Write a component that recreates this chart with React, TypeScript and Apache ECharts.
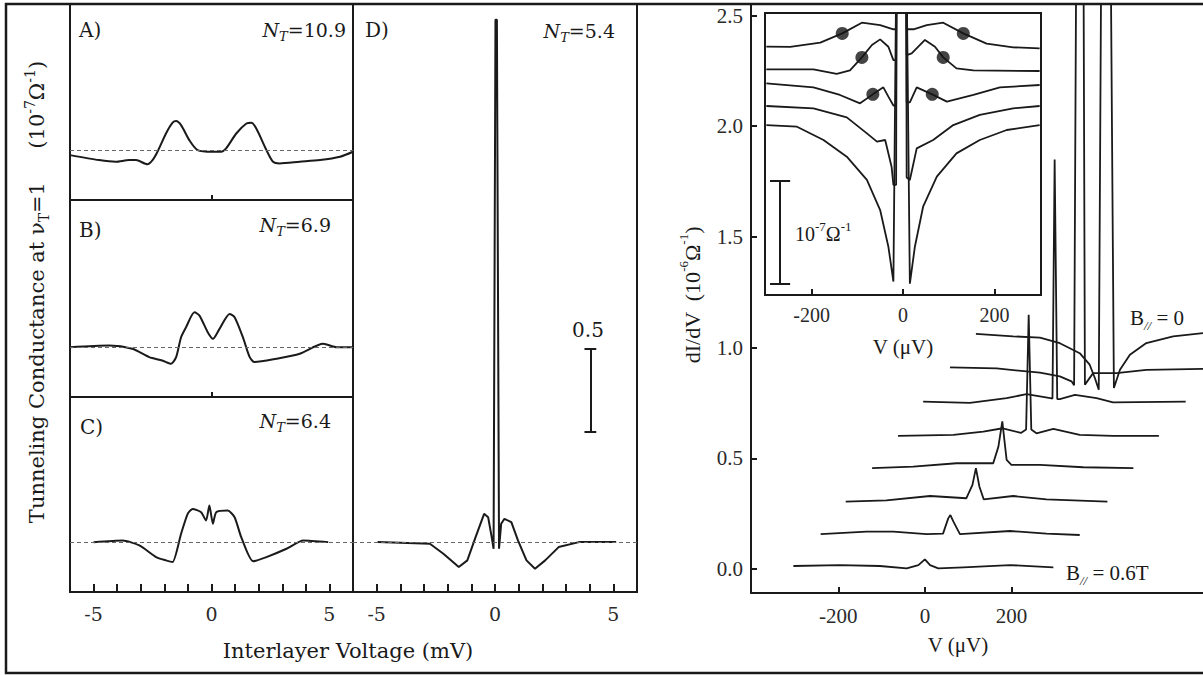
import React, { useEffect, useRef } from "react";
import * as echarts from "echarts";

// ---------- Left panels: Interlayer voltage (mV) vs conductance (10^-7 Ω^-1, relative to baseline)
const panelA: number[][] = [
  [-6.0, -0.03], [-4.77, -0.06], [-4.06, -0.07], [-3.49, -0.06], [-3.2, -0.06], [-2.72, -0.085],
  [-2.5, -0.06], [-2.29, -0.01], [-1.93, 0.1], [-1.65, 0.165], [-1.5, 0.175], [-1.29, 0.15],
  [-0.94, 0.06], [-0.59, 0.0], [0.05, -0.01], [0.41, -0.01], [0.62, 0.01], [1.05, 0.1],
  [1.48, 0.16], [1.69, 0.165], [1.9, 0.13], [2.33, 0.0], [2.61, -0.07], [2.89, -0.08],
  [3.74, -0.07], [4.6, -0.06], [5.45, -0.04], [6.0, -0.01],
];
const panelB: number[][] = [
  [-6.0, 0.0], [-4.34, 0.01], [-3.36, -0.01], [-2.64, -0.06], [-2.09, -0.08], [-1.72, -0.1],
  [-1.5, -0.06], [-1.29, 0.06], [-1.08, 0.12], [-0.72, 0.21], [-0.51, 0.19], [-0.16, 0.09],
  [0.06, 0.05], [0.34, 0.11], [0.77, 0.2], [0.98, 0.18], [1.33, 0.06], [1.62, -0.06],
  [1.83, -0.09], [2.75, -0.07], [3.74, -0.04], [4.74, 0.02], [5.31, 0.0], [6.0, 0.0],
];
const panelC: number[][] = [
  [-5.0, 0.0], [-3.77, 0.01], [-3.06, -0.02], [-2.35, -0.09], [-1.93, -0.11], [-1.65, -0.12],
  [-1.29, 0.05], [-1.01, 0.17], [-0.8, 0.2], [-0.44, 0.18], [-0.23, 0.13], [-0.09, 0.22],
  [0.06, 0.11], [0.2, 0.18], [0.69, 0.19], [0.98, 0.15], [1.26, 0.03], [1.76, -0.115],
  [2.33, -0.09], [3.18, -0.04], [3.89, 0.01], [4.95, 0.0],
];
const panelD: number[][] = [
  [-4.96, 0.0], [-2.75, -0.01], [-2.18, -0.07], [-1.53, -0.15], [-1.17, -0.11], [-0.82, 0.03],
  [-0.46, 0.17], [-0.29, 0.15], [-0.14, 0.03], [-0.06, -0.04], [-0.04, -0.04], [0.02, 3.14],
  [0.08, 3.14], [0.17, -0.04], [0.19, -0.04], [0.26, 0.11], [0.4, 0.14], [0.69, 0.12], [0.97, 0.01],
  [1.33, -0.11], [1.69, -0.16], [2.12, -0.11], [2.69, -0.03], [3.55, 0.0], [5.12, 0.0],
];
const panelNames = ["A)", "B)", "C)", "D)"];
const panelNT = ["10.9", "6.9", "6.4", "5.4"];
const leftTickLabels = [-5, 0, 5];
const scaleBarD = { x: 4.03, from: 0.663, to: 1.163, cap: 0.25, label: "0.5" };

// ---------- Right panel: waterfall dI/dV (10^-6 Ω^-1) vs V (µV), bottom B//=0.6T ... top B//=0
const wf1: number[][] = [
  [-304, 0.014], [-197, 0.018], [-104, 0.014], [-42, 0.003], [-15, 0.018], [0, 0.044],
  [12, 0.018], [31, 0.003], [89, 0.008], [197, 0.018], [297, 0.008],
];
const wf2: number[][] = [
  [-241, 0.158], [-135, 0.169], [-73, 0.169], [4, 0.158], [42, 0.16], [54, 0.229], [59, 0.244],
  [66, 0.214], [81, 0.158], [197, 0.172], [281, 0.16], [358, 0.154],
];
const wf3: number[][] = [
  [-183, 0.305], [-89, 0.31], [12, 0.33], [96, 0.32], [110, 0.38], [118, 0.456], [126, 0.373],
  [136, 0.315], [204, 0.33], [281, 0.315], [422, 0.305],
];
const wf4: number[][] = [
  [-122, 0.456], [-27, 0.463], [73, 0.478], [158, 0.478], [170, 0.553], [179, 0.667],
  [189, 0.493], [200, 0.471], [266, 0.471], [366, 0.46], [482, 0.456],
];
const wf5: number[][] = [
  [-62, 0.602], [66, 0.606], [135, 0.621], [180, 0.636], [222, 0.615], [234, 0.63], [240, 1.149],
  [246, 0.63], [258, 0.613], [297, 0.633], [358, 0.606], [435, 0.602], [541, 0.602],
];
const wf6: number[][] = [
  [-4, 0.756], [104, 0.751], [189, 0.772], [235, 0.79], [266, 0.78], [290, 0.772], [295, 0.77],
  [300, 1.85], [306, 0.768], [312, 0.768], [347, 0.787], [397, 0.772], [435, 0.753], [603, 0.756],
];
const wf7: number[][] = [
  [58, 0.911], [166, 0.906], [266, 0.887], [312, 0.87], [339, 0.848], [345, 0.83], [351, 3.2],
  [366, 3.2], [370, 0.833], [389, 0.885], [443, 0.885], [512, 0.9], [643, 0.904],
];
const wf8: number[][] = [
  [118, 1.062], [204, 1.051], [266, 1.045], [312, 1.02], [358, 0.975], [381, 0.923], [393, 0.863],
  [402, 0.81], [409, 3.2], [428, 3.2], [437, 0.818], [451, 0.9], [474, 0.968], [512, 1.021],
  [574, 1.051], [643, 1.066],
];
const waterfall = [wf1, wf2, wf3, wf4, wf5, wf6, wf7, wf8];
const rightXTicks = [-200, 0, 200];
const rightYTicks = [0, 0.5, 1.0, 1.5, 2.0, 2.5];

// ---------- Inset: dI/dV (units of 10^-7 Ω^-1, offset) vs V (µV)
const inset1: number[][] = [
  [-299, 2.411], [-247, 2.41], [-181, 2.45], [-133, 2.54], [-90, 2.644], [-50, 2.62], [-21, 2.58],
  [-15, 2.58], [-14, 3.5], [7, 3.5], [8, 2.58], [23, 2.58], [52, 2.62], [88, 2.644], [132, 2.54],
  [183, 2.44], [241, 2.405], [299, 2.395],
];
const inset2: number[][] = [
  [-299, 2.191], [-196, 2.19], [-145, 2.146], [-116, 2.18], [-90, 2.307], [-68, 2.427], [-50, 2.482],
  [-32, 2.41], [-21, 2.28], [-15, 2.28], [-14, 3.5], [7, 3.5], [8, 2.33], [19, 2.346], [48, 2.476],
  [70, 2.41], [88, 2.307], [117, 2.2], [154, 2.18], [299, 2.175],
];
const inset3: number[][] = [
  [-299, 2.055], [-196, 2.016], [-138, 1.942], [-94, 1.861], [-66, 1.948], [-43, 2.016], [-32, 1.926],
  [-21, 1.84], [-15, 1.84], [-14, 3.5], [7, 3.5], [8, 1.87], [15, 1.87], [30, 2.016], [64, 1.948],
  [96, 1.877], [154, 1.942], [212, 2.016], [299, 2.039],
];
const inset4: number[][] = [
  [-299, 1.835], [-196, 1.812], [-123, 1.725], [-79, 1.569], [-57, 1.489], [-39, 1.505], [-25, 1.246],
  [-21, 1.07], [-15, 1.07], [-14, 3.5], [7, 3.5], [8, 1.14], [15, 1.117], [30, 1.424], [66, 1.505],
  [110, 1.65], [168, 1.748], [241, 1.812], [299, 1.835],
];
const inset5: number[][] = [
  [-299, 1.65], [-232, 1.634], [-174, 1.505], [-123, 1.343], [-79, 1.117], [-50, 0.825], [-32, 0.469],
  [-21, 0.13], [-14, 3.5], [7, 3.5], [15, 0.11], [26, 0.469], [44, 0.857], [74, 1.149], [117, 1.375],
  [168, 1.505], [227, 1.602], [299, 1.65],
];
const insetTraces = [inset1, inset2, inset3, inset4, inset5];
const insetDots: number[][] = [
  [-133, 2.54], [132, 2.54], [-90, 2.307], [88, 2.307], [-66, 1.948], [64, 1.948],
];
const insetXTicks = [-200, 0, 200];
const scaleBarInset = { x: -269, from: 0.107, to: 1.107, cap: 22 };

const LF = "DejaVu Serif";
const RF = "Liberation Serif";
const INK = "#1a1a1a";

const tok = (family: string, size: number, lh: number, extra: any = {}) => ({
  fontFamily: family, fontSize: size, lineHeight: lh, fill: INK, ...extra,
});
const LR = {
  a: tok(LF, 19, 26),
  p: tok(LF, 20, 26),
  x: tok(LF, 21, 28),
  b: tok(LF, 21, 28),
  i: tok(LF, 19, 26, { fontStyle: "italic" }),
  sub: tok(LF, 13, 13, { fontStyle: "italic", verticalAlign: "bottom" }),
  subr: tok(LF, 14, 14, { verticalAlign: "bottom" }),
  sup: tok(LF, 14, 14, { verticalAlign: "top" }),
};
const RR = {
  a: tok(RF, 21, 28),
  y: tok(RF, 22, 30),
  c: tok(RF, 20, 28),
  sup: tok(RF, 13, 13, { verticalAlign: "top" }),
  sub: tok(RF, 13, 13, { fontStyle: "italic", verticalAlign: "bottom" }),
};

function rt(x: number, y: number, text: string, rich: any, align = "left", rotation = 0) {
  return {
    type: "text", x, y, rotation, z: 20, silent: true,
    style: { text, rich, textAlign: align, textVerticalAlign: "middle", fill: INK },
  };
}

export default function App() {
  const ref = useRef<HTMLDivElement>(null);
  useEffect(() => {
    if (!ref.current) return;
    const chart = echarts.init(ref.current, undefined, { renderer: "svg" });
    const axisLineStyle = { color: INK, width: 2 };
    const gridBase = { show: true, borderColor: INK, borderWidth: 2, backgroundColor: "transparent", containLabel: false, outerBoundsMode: "none" };
    const leftGrids = [
      { left: 70, top: 4, width: 283, height: 196 },
      { left: 70, top: 200, width: 283, height: 197 },
      { left: 70, top: 397, width: 283, height: 195 },
      { left: 353, top: 4, width: 284, height: 588 },
    ].map((g) => ({ ...gridBase, ...g }));
    const grids = [
      ...leftGrids,
      { left: 751, top: 4, width: 452, height: 589, show: false, containLabel: false, outerBoundsMode: "none" },
      { ...gridBase, left: 765, top: 13, width: 276, height: 282, backgroundColor: "#fff" },
    ];
    const leftXTop = (g: number) => ({
      gridIndex: g, type: "value", min: -6, max: 6,
      axisLine: { show: false, onZero: false },
      axisTick: { show: true, inside: true, length: 5, customValues: [0], lineStyle: axisLineStyle },
      axisLabel: { show: false }, splitLine: { show: false },
    });
    const leftXBottom = (g: number) => ({
      gridIndex: g, type: "value", min: -6, max: 6, interval: 1,
      axisLine: { show: true, onZero: false, lineStyle: axisLineStyle },
      axisTick: { show: true, inside: true, length: 8, lineStyle: axisLineStyle },
      axisLabel: {
        formatter: (v: number) => (leftTickLabels.includes(v) ? String(v) : ""),
        fontFamily: LF, fontSize: 19, color: "#2a2a2a", margin: 12,
      },
      splitLine: { show: false },
    });
    const hiddenY = (g: number, min: number, max: number) => ({
      gridIndex: g, type: "value", min, max, show: false, axisLine: { onZero: false }, splitLine: { show: false },
    });
    const xAxis = [
      leftXTop(0), leftXTop(1), leftXBottom(2), leftXBottom(3),
      {
        gridIndex: 4, type: "value", min: -402, max: 643,
        axisLine: { show: true, onZero: false, lineStyle: axisLineStyle },
        axisTick: { show: true, inside: true, length: 6, customValues: rightXTicks, lineStyle: axisLineStyle },
        axisLabel: { customValues: rightXTicks, fontFamily: RF, fontSize: 21, color: "#2a2a2a", margin: 12 },
        splitLine: { show: false },
      },
      {
        gridIndex: 5, type: "value", min: -302, max: 302,
        axisLine: { show: false, onZero: false },
        axisTick: { show: true, inside: true, length: 6, customValues: insetXTicks, lineStyle: axisLineStyle },
        axisLabel: { customValues: insetXTicks, fontFamily: RF, fontSize: 20, color: "#2a2a2a", margin: 10 },
        splitLine: { show: false },
      },
    ];
    const yAxis = [
      hiddenY(0, -0.3, 0.879), hiddenY(1, -0.3, 0.886), hiddenY(2, -0.3, 0.873), hiddenY(3, -0.3, 3.235),
      {
        gridIndex: 4, type: "value", min: -0.108, max: 2.552,
        axisLine: { show: true, onZero: false, lineStyle: axisLineStyle },
        axisTick: { show: true, inside: true, length: 6, customValues: rightYTicks, lineStyle: axisLineStyle },
        axisLabel: {
          customValues: rightYTicks, formatter: (v: number) => v.toFixed(1),
          fontFamily: RF, fontSize: 21, color: "#2a2a2a", margin: 8,
        },
        splitLine: { show: false },
      },
      hiddenY(5, 0, 2.738),
    ];
    const baseLine = {
      silent: true, symbol: ["none", "none"], label: { show: false }, animation: false,
      lineStyle: { type: [4, 3], color: "#666", width: 1 },
      data: [{ yAxis: 0 }] as any[],
    };
    const solid = { type: "solid", color: INK, width: 2 };
    const line = (idx: number, data: number[][], extra: any = {}) => ({
      type: "line", xAxisIndex: idx, yAxisIndex: idx, data, symbol: "none", showSymbol: false,
      lineStyle: { color: INK, width: 2 }, clip: true, silent: true, z: 3, ...extra,
    });
    const series: any[] = [
      line(0, panelA, { smooth: 0.25, markLine: baseLine }),
      line(1, panelB, { smooth: 0.25, markLine: baseLine }),
      line(2, panelC, { smooth: 0.2, markLine: baseLine }),
      line(3, panelD, {
        markLine: {
          ...baseLine,
          data: [
            { yAxis: 0 },
            [{ coord: [scaleBarD.x, scaleBarD.from], lineStyle: solid }, { coord: [scaleBarD.x, scaleBarD.to] }],
            [{ coord: [scaleBarD.x - scaleBarD.cap, scaleBarD.from], lineStyle: solid }, { coord: [scaleBarD.x + scaleBarD.cap, scaleBarD.from] }],
            [{ coord: [scaleBarD.x - scaleBarD.cap, scaleBarD.to], lineStyle: solid }, { coord: [scaleBarD.x + scaleBarD.cap, scaleBarD.to] }],
          ],
        },
      }),
      ...waterfall.map((d) => line(4, d, { lineStyle: { color: INK, width: 1.8 } })),
      ...insetTraces.map((d, i) =>
        line(5, d, {
          lineStyle: { color: INK, width: 1.8 },
          markLine: i === 4 ? {
            silent: true, symbol: ["none", "none"], label: { show: false }, animation: false,
            lineStyle: solid,
            data: [
              [{ coord: [scaleBarInset.x, scaleBarInset.from] }, { coord: [scaleBarInset.x, scaleBarInset.to] }],
              [{ coord: [scaleBarInset.x - scaleBarInset.cap, scaleBarInset.from] }, { coord: [scaleBarInset.x + scaleBarInset.cap, scaleBarInset.from] }],
              [{ coord: [scaleBarInset.x - scaleBarInset.cap, scaleBarInset.to] }, { coord: [scaleBarInset.x + scaleBarInset.cap, scaleBarInset.to] }],
            ],
          } : undefined,
        })
      ),
      {
        type: "scatter", xAxisIndex: 5, yAxisIndex: 5, data: insetDots, symbolSize: 13,
        itemStyle: { color: "#151515" }, silent: true, z: 5,
      },
    ];

    const ntLabel = (v: string) => `{i|N}{sub|T}{a|=${v}}`;
    const graphic: any[] = [
      { type: "rect", shape: { x: 6, y: 4, width: 1215, height: 669 }, style: { fill: "none", stroke: INK, lineWidth: 2.5 }, silent: true, z: 1 },
      rt(79, 30, `{p|${panelNames[0]}}`, LR),
      rt(79, 230, `{p|${panelNames[1]}}`, LR),
      rt(80, 427, `{p|${panelNames[2]}}`, LR),
      rt(365, 30, `{p|${panelNames[3]}}`, LR),
      rt(346, 30, ntLabel(panelNT[0]), LR, "right"),
      rt(331, 225, ntLabel(panelNT[1]), LR, "right"),
      rt(331, 421, ntLabel(panelNT[2]), LR, "right"),
      rt(615, 31, ntLabel(panelNT[3]), LR, "right"),
      rt(588, 330, `{p|${scaleBarD.label}}`, LR, "center"),
      rt(348, 651, "{x|Interlayer Voltage (mV)}", LR, "center"),
      rt(37, 292, "{b|Tunneling Conductance at ν}{subr|T}{b|=1     (10}{sup|-7}{b|Ω}{sup|-1}{b|)}", LR, "center", Math.PI / 2),
      rt(692, 295, "{y|dI/dV  (10}{sup|-6}{y|Ω}{sup|-1}{y|)}", RR, "center", Math.PI / 2),
      rt(958, 645, "{a|V (μV)}", RR, "center"),
      rt(903, 347, "{a|V (μV)}", RR, "center"),
      rt(795, 234, "{c|10}{sup|-7}{c|Ω}{sup|-1}", RR, "left"),
      rt(1130, 318, "{a|B}{sub|//}{a| = 0}", RR, "left"),
      rt(1066, 573, "{a|B}{sub|//}{a| = 0.6T}", RR, "left"),
    ];

    chart.setOption({
      animation: false,
      backgroundColor: "#fff",
      grid: grids,
      xAxis,
      yAxis,
      series,
      graphic,
    } as any);
    return () => chart.dispose();
  }, []);
  return (
    <div
      ref={ref}
      style={{ position: "fixed", left: 0, top: 0, width: 1203, height: 675, background: "#fff" }}
    />
  );
}
